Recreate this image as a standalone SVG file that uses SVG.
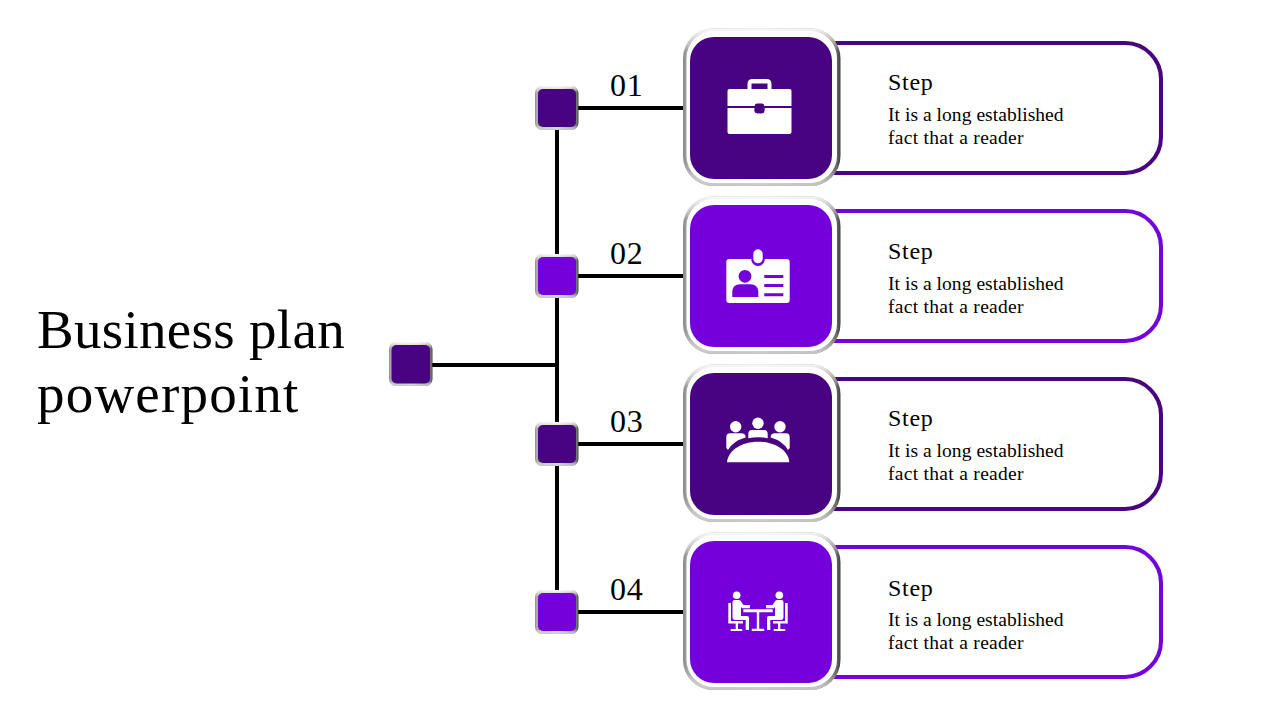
<svg xmlns="http://www.w3.org/2000/svg" xmlns:xlink="http://www.w3.org/1999/xlink" width="1280" height="720" viewBox="0 0 1280 720">
<style>
text{font-family:"Liberation Serif","DejaVu Serif",serif;fill:#000}
.title{font-size:55px}
.num{font-size:32px;letter-spacing:.8px}
.step{font-size:24px;letter-spacing:.7px}
.body{font-size:19.500px;letter-spacing:.05px}
.b2{letter-spacing:.3px}
.line{stroke:#000;stroke-width:4;fill:none}
.panel{fill:#fff;stroke-width:4}
.ic{fill:#fff}
</style>
<defs>
<linearGradient id="bevel" x1="0" y1="0" x2="1" y2="0"><stop offset="0" stop-color="#888"/><stop offset=".03" stop-color="#aaa"/><stop offset=".5" stop-color="#d0d0d0"/><stop offset=".97" stop-color="#707070"/><stop offset="1" stop-color="#404040"/></linearGradient>
<linearGradient id="bevelV" x1="0" y1="0" x2="0" y2="1"><stop offset="0" stop-color="#f8f8f8"/><stop offset=".14" stop-color="#fff" stop-opacity="0"/><stop offset=".9" stop-color="#fff" stop-opacity="0"/><stop offset="1" stop-color="#c4c4c4"/></linearGradient>
<g id="card"><rect x="683" y="28.500" width="157.500" height="157.500" rx="30" fill="url(#bevel)"/><rect x="683" y="28.500" width="157.500" height="157.500" rx="30" fill="url(#bevelV)"/><rect x="686.500" y="31" width="150.500" height="152" rx="27" fill="#fff"/></g>
<g id="sq"><rect x="535" y="86" width="43.500" height="44" rx="7" fill="url(#bevel)"/><rect x="535" y="86" width="43.500" height="44" rx="7" fill="url(#bevelV)"/></g>
<g id="person">
<path class="ic" d="M734.500 600H739Q740.500 600 741.500 602L743.500 605H750V608.300H742L741 607V616H747Q749 616 749 618V630H745.700V620H735Q732.500 620 732.500 617V602Q732.500 600 734.500 600Z"/>
<path class="ic" d="M728.300 603H731V621H743V623.500H738V629H742.300V631H730.700V629H735.700V623.500H728.300Z"/>
<circle class="ic" cx="736.700" cy="595.300" r="3.800"/>
</g>
</defs>
<g id="connectors">
<path class="line" d="M557 108V612M432 365H557M577 108H683M577 276H683M577 444H683M577 612H683"/>
</g>
<g id="title"><text class="title" x="37" y="348" style="letter-spacing:.3px">Business plan</text><text class="title" x="37" y="412" style="letter-spacing:1.200px">powerpoint</text></g>
<g id="root"><use xlink:href="#sq" x="-146" y="256"/><rect x="391.500" y="345" width="38.500" height="38.500" rx="5" fill="#470382"/></g>
<g id="step1">
<use xlink:href="#sq"/><rect x="538" y="89" width="38" height="38" rx="5" fill="#470382"/>
<text class="num" x="610" y="96">01</text>
<rect class="panel" x="780" y="43" width="381" height="130" rx="36" stroke="#470382"/>
<use xlink:href="#card"/><rect x="690" y="37" width="142" height="142" rx="24" fill="#470382"/>
<path class="ic" fill-rule="evenodd" d="M747.500 89V84Q747.500 79 752.500 79H766.500Q771.500 79 771.500 84V89H789.500Q791.500 89 791.500 91V106H727.500V91Q727.500 89 729.500 89ZM751.500 89H767.500V83.500H751.500Z"/>
<path class="ic" d="M727.500 108H754.500V110Q754.500 113.300 757.500 113.300H761.500Q764.500 113.300 764.500 110V108H791.500V132Q791.500 134 789.500 134H729.500Q727.500 134 727.500 132Z"/>
<rect x="754.700" y="103.500" width="9.600" height="9.800" rx="2.500" fill="#470382"/>
<text class="step" x="888" y="90">Step</text><text class="body" x="888" y="121">It is a long established</text><text class="body b2" x="888" y="144">fact that a reader</text>
</g>
<g id="step2">
<use xlink:href="#sq" y="168"/><rect x="538" y="257" width="38" height="38" rx="5" fill="#7400DB"/>
<text class="num" x="610" y="264">02</text>
<rect class="panel" x="780" y="211" width="381" height="130" rx="36" stroke="#7400DB"/>
<use xlink:href="#card" y="168"/><rect x="690" y="205" width="142" height="142" rx="24" fill="#7400DB"/>
<rect class="ic" x="726.300" y="259" width="63.400" height="44" rx="3"/>
<rect x="751.300" y="249" width="13.400" height="17" rx="6.500" fill="#7400DB"/>
<rect class="ic" x="753.300" y="249.300" width="9.400" height="14" rx="4.700"/>
<circle cx="745" cy="276.300" r="6.400" fill="#7400DB"/>
<path fill="#7400DB" d="M732.300 297V291Q733 284.500 740 284.300H750.500Q757.500 284.500 758.300 291V297Z"/>
<path fill="#7400DB" d="M764.300 275h19v3h-19ZM764.300 284h19v3h-19ZM764.300 293.300h19v3h-19Z"/>
<text class="step" x="888" y="259">Step</text><text class="body" x="888" y="290">It is a long established</text><text class="body b2" x="888" y="313">fact that a reader</text>
</g>
<g id="step3">
<use xlink:href="#sq" y="336"/><rect x="538" y="425" width="38" height="38" rx="5" fill="#470382"/>
<text class="num" x="610" y="432">03</text>
<rect class="panel" x="780" y="379" width="381" height="130" rx="36" stroke="#470382"/>
<use xlink:href="#card" y="336"/><rect x="690" y="373" width="142" height="142" rx="24" fill="#470382"/>
<circle class="ic" cx="735.700" cy="426.700" r="5.700"/><circle class="ic" cx="758" cy="423.300" r="5.700"/><circle class="ic" cx="780" cy="426.700" r="5.700"/>
<path class="ic" d="M726.300 437Q726.300 433.300 730 433.300H741Q745.600 433.300 745.600 437V437.500Q733 441 728 450L726.300 448Z"/>
<path class="ic" d="M748.300 438.300V434Q748.300 430 752 430H764Q767.700 430 767.700 434V438.300Q758 436 748.300 438.300Z"/>
<path class="ic" d="M789.700 437Q789.700 433.300 786 433.300H775Q770.700 433.300 770.700 437V437.500Q783 441 788 450L789.700 448Z"/>
<path class="ic" d="M727 462.300C728 450 742 441.700 758 441.700C774 441.700 788.500 450 789.300 462.300Z"/>
<text class="step" x="888" y="426">Step</text><text class="body" x="888" y="457">It is a long established</text><text class="body b2" x="888" y="480">fact that a reader</text>
</g>
<g id="step4">
<use xlink:href="#sq" y="504"/><rect x="538" y="593" width="38" height="38" rx="5" fill="#7400DB"/>
<text class="num" x="610" y="600">04</text>
<rect class="panel" x="780" y="547" width="381" height="130" rx="36" stroke="#7400DB"/>
<use xlink:href="#card" y="504"/><rect x="690" y="541" width="142" height="142" rx="24" fill="#7400DB"/>
<use xlink:href="#person"/>
<use xlink:href="#person" transform="matrix(-1 0 0 1 1516 0)"/>
<path class="ic" d="M743.300 609.300h29.400v3h-13.500v16.500h5v2.300h-12.400v-2.300h5v-16.500h-13.500Z"/>
<text class="step" x="888" y="596">Step</text><text class="body" x="888" y="626">It is a long established</text><text class="body b2" x="888" y="649">fact that a reader</text>
</g>
</svg>
